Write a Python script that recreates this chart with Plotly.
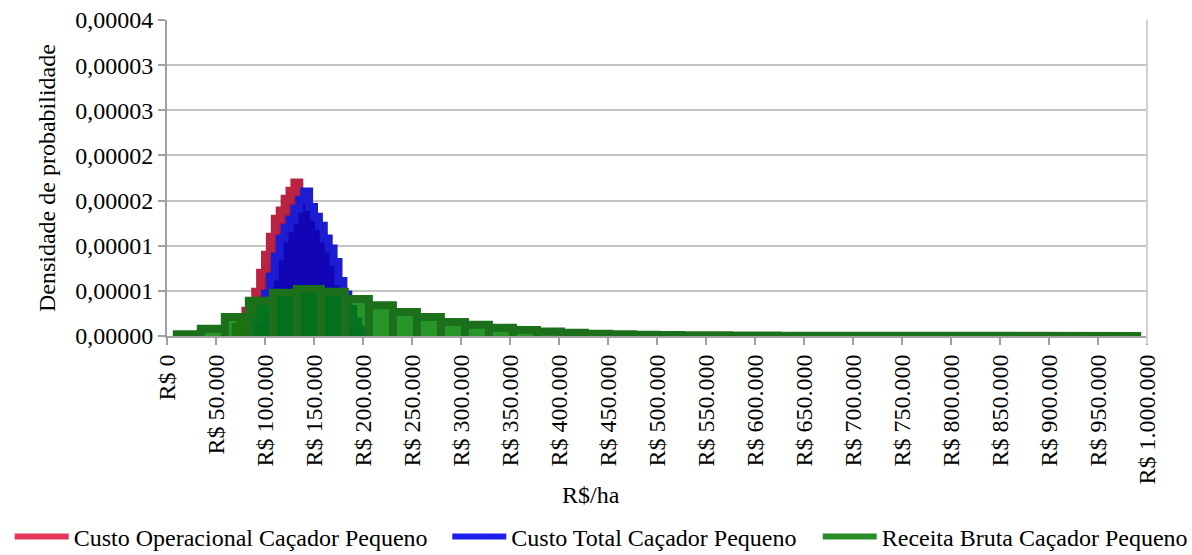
import plotly.graph_objects as go

# Density values are given in units of 1e-6 per R$/ha
DENS_UNIT = 1e-6

# Custo Operacional Caçador Pequeno - bin left edges (R$/ha) and densities
op_edges = [70000, 75000, 80000, 85000, 90000, 95000, 100000, 105000, 110000,
            115000, 120000, 125000, 130000, 135000, 140000, 145000, 150000,
            155000, 160000, 165000, 170000, 175000, 180000, 185000, 190000, 195000]
op_dens = [1.0, 1.8, 2.8, 3.8, 4.9, 7.0, 9.0, 11.0, 13.0, 13.9, 15.2, 16.1, 17.0,
           14.8, 13.8, 12.6, 11.4, 10.0, 8.8, 7.4, 6.0, 4.4, 3.0, 1.8, 0.9]

# Custo Total Caçador Pequeno
tot_edges = [85000, 90000, 95000, 100000, 105000, 110000, 115000, 120000, 125000,
             130000, 135000, 140000, 145000, 150000, 155000, 160000, 165000,
             170000, 175000, 180000, 185000, 190000, 195000, 200000]
tot_dens = [1.0, 1.8, 3.0, 4.7, 6.6, 8.8, 10.8, 12.0, 12.9, 14.1, 15.1, 16.0,
            14.3, 13.2, 12.2, 10.8, 9.7, 8.2, 6.1, 4.6, 3.0, 1.6, 0.7]

# Receita Bruta Caçador Pequeno
rec_edges = [10000, 34500, 59000, 83500, 108000, 132500, 157000, 181500, 206000,
             230500, 255000, 279500, 304000, 328500, 353000, 377500, 402000,
             426500, 451000, 475500, 500000, 524500, 549000, 573500, 598000,
             622500, 647000, 671500, 696000, 720500, 745000, 769500, 794000,
             818500, 843000, 867500, 892000, 916500, 941000, 965500, 990000]
rec_dens = [0.2, 0.8, 2.1, 3.9, 4.8, 5.2, 4.9, 4.1, 3.4, 2.65, 2.1, 1.55, 1.25,
            0.9, 0.67, 0.5, 0.35, 0.25, 0.18, 0.14, 0.11, 0.09, 0.07, 0.06, 0.05,
            0.04, 0.04, 0.03, 0.03, 0.03, 0.02, 0.02, 0.02, 0.02, 0.01, 0.01,
            0.01, 0.01, 0.01, 0.01]

series_names = ["Custo Operacional Caçador Pequeno",
                "Custo Total Caçador Pequeno",
                "Receita Bruta Caçador Pequeno"]

x_tickvals = [0, 50000, 100000, 150000, 200000, 250000, 300000, 350000, 400000,
              450000, 500000, 550000, 600000, 650000, 700000, 750000, 800000,
              850000, 900000, 950000, 1000000]
x_ticktext = ["R$ 0", "R$ 50.000", "R$ 100.000", "R$ 150.000", "R$ 200.000",
              "R$ 250.000", "R$ 300.000", "R$ 350.000", "R$ 400.000",
              "R$ 450.000", "R$ 500.000", "R$ 550.000", "R$ 600.000",
              "R$ 650.000", "R$ 700.000", "R$ 750.000", "R$ 800.000",
              "R$ 850.000", "R$ 900.000", "R$ 950.000", "R$ 1.000.000"]
y_tickvals = [0, 5e-6, 10e-6, 15e-6, 20e-6, 25e-6, 30e-6, 35e-6]
y_ticktext = ["0,00000", "0,00001", "0,00001", "0,00002", "0,00002",
              "0,00003", "0,00003", "0,00004"]

FONT = "'Liberation Serif', 'Times New Roman', 'DejaVu Serif', serif"


def step_outline(edges, dens):
    """Staircase outline of a histogram (top edge only)."""
    xs, ys = [edges[0]], [0.0]
    for i, d in enumerate(dens):
        xs += [edges[i], edges[i + 1]]
        ys += [d * DENS_UNIT, d * DENS_UNIT]
    xs.append(edges[len(dens)])
    ys.append(0.0)
    return xs, ys


def bar_outline(edges, dens):
    """Histogram outline dropping to zero at every bin edge."""
    xs, ys = [], []
    for i, d in enumerate(dens):
        xs += [edges[i], edges[i], edges[i + 1], edges[i + 1]]
        ys += [0.0, d * DENS_UNIT, d * DENS_UNIT, 0.0]
    return xs, ys


fig = go.Figure()

x, y = step_outline(op_edges, op_dens)
fig.add_trace(go.Scatter(
    x=x, y=y, mode="lines", fill="tozeroy",
    line=dict(color="rgb(186,36,66)", width=8),
    fillcolor="rgb(176,30,60)", showlegend=False, hoverinfo="skip"))

x, y = step_outline(tot_edges, tot_dens)
fig.add_trace(go.Scatter(
    x=x, y=y, mode="lines", fill="tozeroy",
    line=dict(color="rgb(28,28,210)", width=8),
    fillcolor="rgb(18,5,182)", showlegend=False, hoverinfo="skip"))

x, y = bar_outline(rec_edges, rec_dens)
fig.add_trace(go.Scatter(
    x=x, y=y, mode="lines", fill="tozeroy",
    line=dict(color="rgb(28,112,28)", width=8),
    fillcolor="rgba(2,131,2,0.85)", showlegend=False, hoverinfo="skip"))

# Legend entries, one legend box per series so each can be placed freely
legend_colors = ["rgb(226,55,90)", "rgb(30,30,238)", "rgb(40,140,40)"]
legend_ids = ["legend", "legend2", "legend3"]
for name, col, lid in zip(series_names, legend_colors, legend_ids):
    fig.add_trace(go.Scatter(
        x=[None], y=[None], mode="lines", name=name, legend=lid,
        line=dict(color=col, width=6)))

legend_x = {"legend": -0.1605, "legend2": 0.2860, "legend3": 0.6640}
legend_style = {}
for lid in legend_ids:
    legend_style[lid] = dict(
        orientation="h", x=legend_x[lid], xanchor="left",
        y=-0.636, yanchor="middle",
        font=dict(family=FONT, size=24, color="black"),
        itemwidth=54, bgcolor="rgba(0,0,0,0)")

fig.update_layout(
    width=1192, height=555,
    margin=dict(l=167, r=45, t=20, b=219, autoexpand=False),
    paper_bgcolor="white", plot_bgcolor="white",
    font=dict(family=FONT, size=24, color="black"),
    showlegend=True,
    **legend_style,
    xaxis=dict(range=[0, 1000000], tickmode="array",
               tickvals=x_tickvals, ticktext=x_ticktext, tickangle=-90,
               ticks="outside", ticklen=7, tickwidth=2, tickcolor="#a0a0a0",
               showline=True, linecolor="#a0a0a0", linewidth=2,
               showgrid=False, zeroline=False, automargin=False,
               tickfont=dict(family=FONT, size=24, color="black")),
    yaxis=dict(range=[0, 35e-6], tickmode="array",
               tickvals=y_tickvals, ticktext=y_ticktext,
               ticks="outside", ticklen=7, tickwidth=2, tickcolor="#a0a0a0",
               showline=True, linecolor="#a0a0a0", linewidth=2,
               showgrid=True, gridcolor="#c4c4c4", gridwidth=2,
               zeroline=False, automargin=False,
               tickfont=dict(family=FONT, size=24, color="black")),
    annotations=[
        dict(text="R$/ha", xref="paper", yref="paper", x=0.433, y=-0.503,
             xanchor="center", yanchor="middle", showarrow=False,
             font=dict(family=FONT, size=24, color="black")),
        dict(text="Densidade de probabilidade", xref="paper", yref="paper",
             x=-0.1224, y=0.5, xanchor="center", yanchor="middle",
             textangle=-90, showarrow=False,
             font=dict(family=FONT, size=24, color="black")),
    ],
    shapes=[dict(type="line", xref="paper", yref="paper", x0=1, x1=1,
                 y0=-0.025, y1=1, line=dict(color="#d0d0d0", width=2))],
)

fig.write_html("out.html")
